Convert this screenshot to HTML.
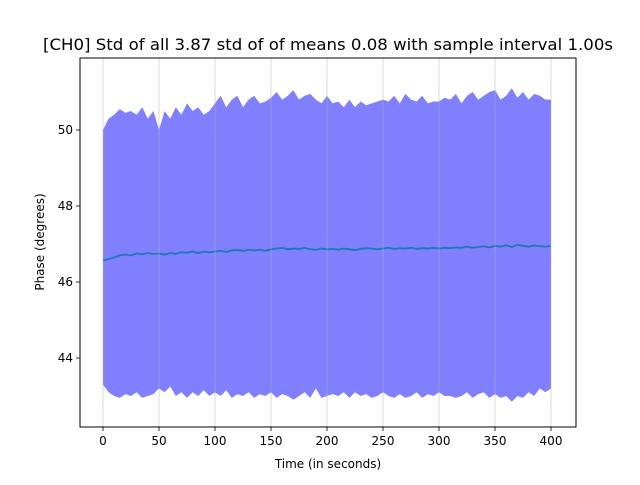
<!DOCTYPE html>
<html><head><meta charset="utf-8"><style>
body{margin:0;background:#fff;font-family:"Liberation Sans","DejaVu Sans",sans-serif}
svg text{font-family:"DejaVu Sans","Liberation Sans",sans-serif;fill:#000}
</style></head><body>
<svg id="chart" width="640" height="480" xmlns="http://www.w3.org/2000/svg">
<rect width="640" height="480" fill="#fff"/>
<g id="plot"></g>
<g id="grid"></g>
<rect x="80" y="58" width="496" height="369" fill="none" stroke="#000" stroke-width="1"/>
<g id="ticks"></g>
<text x="328" y="50" font-size="16" text-anchor="middle" textLength="570" lengthAdjust="spacingAndGlyphs">[CH0] Std of all 3.87 std of of means 0.08 with sample interval 1.00s</text>
<text x="328" y="468" font-size="12" text-anchor="middle">Time (in seconds)</text>
<text x="44" y="242" font-size="12" text-anchor="middle" transform="rotate(-90 44 242)">Phase (degrees)</text>
</svg>
<script>
const xTicks=[0,50,100,150,200,250,300,350,400];
const yTicks=[44,46,48,50];
const times=[0,5,10,15,20,25,30,35,40,45,50,55,60,65,70,75,80,85,90,95,100,105,110,115,120,125,130,135,140,145,150,155,160,165,170,175,180,185,190,195,200,205,210,215,220,225,230,235,240,245,250,255,260,265,270,275,280,285,290,295,300,305,310,315,320,325,330,335,340,345,350,355,360,365,370,375,380,385,390,395,400];
const upper=[50.0,50.3,50.4,50.55,50.45,50.5,50.4,50.6,50.3,50.5,50.0,50.5,50.3,50.6,50.4,50.7,50.5,50.6,50.4,50.5,50.7,50.9,50.6,50.8,50.9,50.6,50.8,50.9,50.7,50.75,50.85,51.0,50.8,50.9,51.05,50.8,50.9,50.95,50.8,50.7,50.9,50.7,50.75,50.6,50.8,50.6,50.75,50.65,50.7,50.75,50.8,50.75,50.9,50.7,50.95,50.8,50.75,50.9,50.7,50.75,50.75,50.85,50.8,50.95,50.7,50.9,51.0,50.8,50.9,51.0,51.05,50.8,50.9,51.1,50.85,51.0,50.8,50.95,50.9,50.8,50.8];
const lower=[43.3,43.1,43.0,42.95,43.05,43.0,43.1,42.95,43.0,43.05,43.2,43.1,43.25,43.0,43.1,42.95,43.1,43.0,43.15,43.0,43.1,43.0,43.15,42.95,43.05,43.0,43.1,42.95,43.05,43.0,43.1,42.95,43.05,43.0,42.9,43.0,43.1,42.95,43.2,42.95,43.0,43.05,43.0,43.1,42.95,43.1,43.0,43.05,42.95,43.0,43.1,43.0,42.95,43.05,42.95,43.0,43.1,42.95,43.05,43.0,43.1,43.0,43.0,42.95,43.0,43.1,42.95,43.05,43.1,42.95,43.05,42.95,43.0,42.85,43.0,42.95,43.1,43.0,43.2,43.1,43.2];
const mean=[46.57,46.6,46.65,46.7,46.72,46.7,46.75,46.73,46.76,46.74,46.75,46.72,46.76,46.74,46.78,46.77,46.8,46.76,46.8,46.78,46.8,46.82,46.79,46.83,46.84,46.82,46.85,46.83,46.85,46.82,46.86,46.88,46.9,46.86,46.88,46.87,46.9,46.86,46.85,46.88,46.86,46.87,46.85,46.88,46.86,46.84,46.87,46.89,46.88,46.86,46.88,46.9,46.87,46.89,46.88,46.9,46.87,46.89,46.88,46.9,46.88,46.9,46.89,46.91,46.9,46.93,46.9,46.92,46.94,46.91,46.95,46.93,46.97,46.92,46.98,46.95,46.93,46.96,46.94,46.93,46.95];
const X=v=>103+(v-0)*(551-103)/400;
const Y=v=>206-(v-48)*38;
const NS='http://www.w3.org/2000/svg';
function mk(t,a){const e=document.createElementNS(NS,t);for(const k in a)e.setAttribute(k,a[k]);return e;}
const grid=document.getElementById('grid'),plot=document.getElementById('plot'),ticks=document.getElementById('ticks');
xTicks.forEach(t=>{const l=mk('line',{x1:X(t),x2:X(t),y1:58,y2:427,stroke:'#b0b0b0','stroke-opacity':0.6,'stroke-width':0.8});


grid.appendChild(l);
const tk=mk('line',{x1:X(t),x2:X(t),y1:427,y2:431,stroke:'#000','stroke-width':0.8});


ticks.appendChild(tk);
const tx=mk('text',{x:X(t),y:445,'font-size':12,'text-anchor':'middle'});tx.textContent=t;


ticks.appendChild(tx);});
yTicks.forEach(t=>{const tk=mk('line',{x1:76,x2:80,y1:Y(t),y2:Y(t),stroke:'#000','stroke-width':0.8});


ticks.appendChild(tk);
const tx=mk('text',{x:73,y:Y(t)+4,'font-size':12,'text-anchor':'end'});tx.textContent=t;


ticks.appendChild(tx);});
let d='M'+times.map((t,i)=>X(t)+','+Y(upper[i])).join('L');
for(let i=times.length-1;i>=0;i--)d+='L'+X(times[i])+','+Y(lower[i]);
d+='Z';
const band=mk('path',{d:d,fill:'#8080ff',stroke:'none'});


plot.appendChild(band);
const ln=mk('polyline',{points:times.map((t,i)=>X(t)+','+Y(mean[i])).join(' '),fill:'none',stroke:'#1f77b4','stroke-width':1.8});


plot.appendChild(ln);
</script>
</body></html>
